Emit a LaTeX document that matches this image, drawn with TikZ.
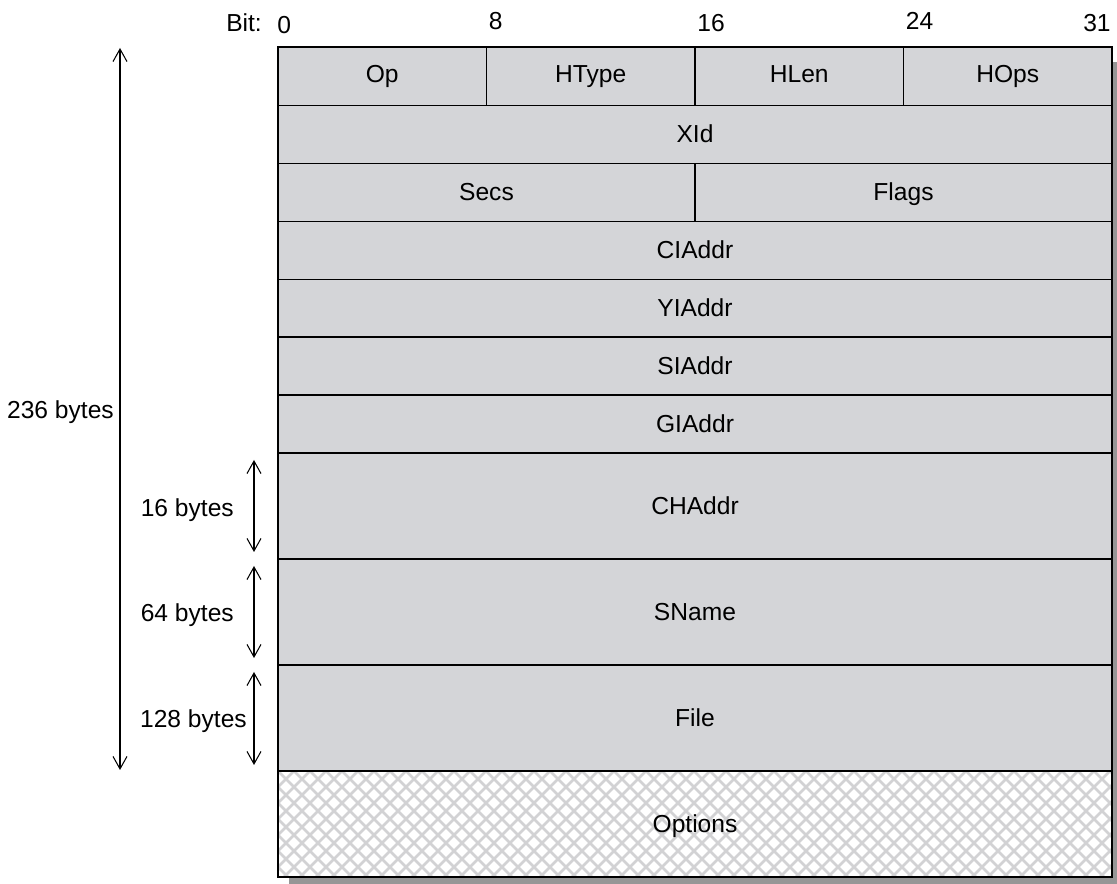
\documentclass[tikz,border=0pt]{standalone}
\usepackage{fontspec}
\setmainfont{Liberation Sans}
\usetikzlibrary{arrows.meta}
\definecolor{cellgray}{RGB}{212,213,216}
\definecolor{hatchgray}{RGB}{210,210,212}
\definecolor{shadowgray}{RGB}{150,150,150}
\begin{document}
\begin{tikzpicture}[x=0.02cm,y=-0.02cm,font=\fontsize{14}{17}\selectfont,
  every node/.style={text height=1.5ex,text depth=0.1ex},
  field/.style={draw,fill=cellgray,line width=0.6pt},
  span/.style={line width=0.6pt,{Straight Barb[length=0.25cm,width=0.28cm]}-{Straight Barb[length=0.25cm,width=0.28cm]}}]
  \useasboundingbox (0,0) rectangle (1117,884);
  \def\L{278}
  \def\R{1112}
  \def\cA{486.5}
  \def\cB{695}
  \def\cC{903.5}
  % shadow
  \fill[shadowgray] (289,62) rectangle (1117,884);
  % fixed header rows
  \draw[field] (\L,47) rectangle (\cA,105.5);
  \draw[field] (\cA,47) rectangle (\cB,105.5);
  \draw[field] (\cB,47) rectangle (\cC,105.5);
  \draw[field] (\cC,47) rectangle (\R,105.5);
  \draw[field] (\L,105.5) rectangle (\R,163.5);
  \draw[field] (\L,163.5) rectangle (\cB,221.5);
  \draw[field] (\cB,163.5) rectangle (\R,221.5);
  \draw[field] (\L,221.5) rectangle (\R,279.5);
  \draw[field] (\L,279.5) rectangle (\R,337);
  \draw[field] (\L,337) rectangle (\R,395);
  \draw[field] (\L,395) rectangle (\R,453);
  \draw[field] (\L,453) rectangle (\R,559);
  \draw[field] (\L,559) rectangle (\R,665);
  \draw[field] (\L,665) rectangle (\R,771);
  % options area
  \fill[white] (\L,771) rectangle (\R,877);
  \begin{scope}
    \clip (\L,771) rectangle (\R,877);
    \foreach \k in {-8,...,60} {
      \draw[hatchgray,line width=1.6pt] (\L+\k*16,771) -- ++(106,106);
      \draw[hatchgray,line width=1.6pt] (\L+\k*16,771) -- ++(-106,106);
    }
  \end{scope}
  \draw[line width=0.6pt] (\L,771) rectangle (\R,877);
  % field names
  \node (op) at ({(\L+\cA)/2},76) {Op};
  \node (htype) at ({(\cA+\cB)/2},76) {HType};
  \node (hlen) at ({(\cB+\cC)/2},76) {HLen};
  \node (hops) at ({(\cC+\R)/2},76) {HOps};
  \node (xid) at (\cB,136) {XId};
  \node (secs) at ({(\L+\cB)/2},194) {Secs};
  \node (flags) at ({(\cB+\R)/2},194) {Flags};
  \node (ciaddr) at (\cB,252) {CIAddr};
  \node (yiaddr) at (\cB,310) {YIAddr};
  \node (siaddr) at (\cB,368) {SIAddr};
  \node (giaddr) at (\cB,426) {GIAddr};
  \node (chaddr) at (\cB,508) {CHAddr};
  \node (sname) at (\cB,614) {SName};
  \node (file) at (\cB,720) {File};
  \node (options) at (\cB,826) {Options};
  % bit ruler
  \node[anchor=east] (bit) at (268,25) {Bit:};
  \node[anchor=west,inner sep=0pt] (b0) at (\L-1,27) {0};
  \node[anchor=west,inner sep=0pt] (b8) at (\cA+2,23.5) {8};
  \node[anchor=west,inner sep=0pt] (b16) at (\cB+2,25) {16};
  \node[anchor=west,inner sep=0pt] (b24) at (\cC+2,23) {24};
  \node[anchor=east,inner sep=0pt] (b31) at (\R-1,25) {31};
  % sizes
  \coordinate (totTop) at (120,48);
  \coordinate (totBot) at (120,770);
  \coordinate (chTop) at (254,460);
  \coordinate (chBot) at (254,552);
  \coordinate (snTop) at (254,566);
  \coordinate (snBot) at (254,658);
  \coordinate (fTop) at (254,672);
  \coordinate (fBot) at (254,765);
  \draw[span] (totTop) -- (totBot);
  \draw[span] (chTop) -- (chBot);
  \draw[span] (snTop) -- (snBot);
  \draw[span] (fTop) -- (fBot);
  \node[anchor=east] (tot) at (120,412) {236 bytes};
  \node[anchor=east] (chlen) at (240,510) {16 bytes};
  \node[anchor=east] (snlen) at (240,615) {64 bytes};
  \node[anchor=east] (flen) at (253,721) {128 bytes};
\end{tikzpicture}
\end{document}
